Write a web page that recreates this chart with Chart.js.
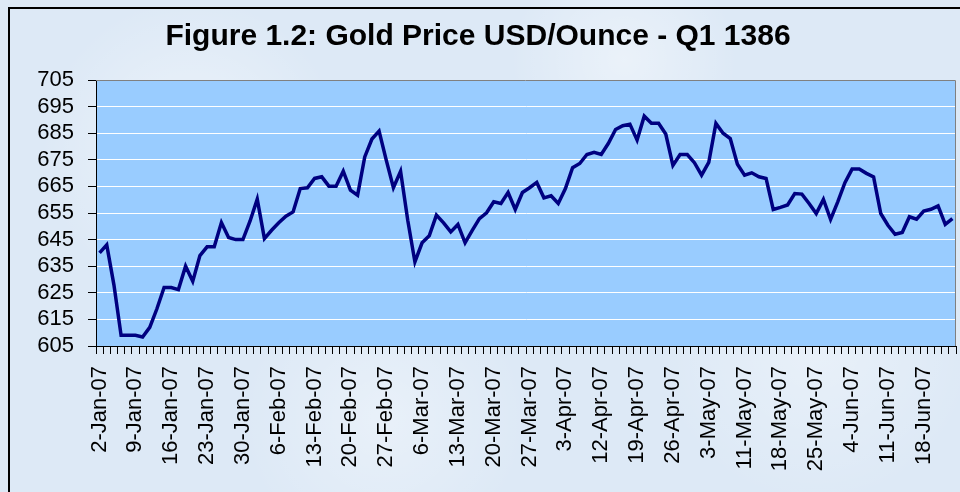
<!DOCTYPE html>
<html>
<head>
<meta charset="utf-8">
<script src="https://cdn.jsdelivr.net/npm/chart.js@4.4.0/dist/chart.umd.min.js"></script>
<style>
  html, body { margin: 0; padding: 0; }
  body {
    width: 960px; height: 492px; overflow: hidden;
    background-color: #dde9f6;
    background-image:
      radial-gradient(circle at 20% 30%, rgba(255,255,255,0.45), transparent 18%),
      radial-gradient(circle at 65% 12%, rgba(255,255,255,0.4), transparent 15%),
      radial-gradient(circle at 40% 85%, rgba(255,255,255,0.35), transparent 20%),
      radial-gradient(circle at 85% 70%, rgba(255,255,255,0.35), transparent 18%);
  }
  canvas { display: block; }
</style>
</head>
<body>
<canvas id="goldChart" width="960" height="492"></canvas>
<script>
// trading days, Jan - Jun 2007
const categories = [
  '2-Jan-07', '3-Jan-07', '4-Jan-07', '5-Jan-07', '8-Jan-07', '9-Jan-07', '10-Jan-07', '11-Jan-07', '12-Jan-07', '15-Jan-07',
  '16-Jan-07', '17-Jan-07', '18-Jan-07', '19-Jan-07', '22-Jan-07', '23-Jan-07', '24-Jan-07', '25-Jan-07', '26-Jan-07', '29-Jan-07',
  '30-Jan-07', '31-Jan-07', '1-Feb-07', '2-Feb-07', '5-Feb-07', '6-Feb-07', '7-Feb-07', '8-Feb-07', '9-Feb-07', '12-Feb-07',
  '13-Feb-07', '14-Feb-07', '15-Feb-07', '16-Feb-07', '19-Feb-07', '20-Feb-07', '21-Feb-07', '22-Feb-07', '23-Feb-07', '26-Feb-07',
  '27-Feb-07', '28-Feb-07', '1-Mar-07', '2-Mar-07', '5-Mar-07', '6-Mar-07', '7-Mar-07', '8-Mar-07', '9-Mar-07', '12-Mar-07',
  '13-Mar-07', '14-Mar-07', '15-Mar-07', '16-Mar-07', '19-Mar-07', '20-Mar-07', '21-Mar-07', '22-Mar-07', '23-Mar-07', '26-Mar-07',
  '27-Mar-07', '28-Mar-07', '29-Mar-07', '30-Mar-07', '2-Apr-07', '3-Apr-07', '4-Apr-07', '5-Apr-07', '10-Apr-07', '11-Apr-07',
  '12-Apr-07', '13-Apr-07', '16-Apr-07', '17-Apr-07', '18-Apr-07', '19-Apr-07', '20-Apr-07', '23-Apr-07', '24-Apr-07', '25-Apr-07',
  '26-Apr-07', '27-Apr-07', '30-Apr-07', '1-May-07', '2-May-07', '3-May-07', '4-May-07', '8-May-07', '9-May-07', '10-May-07',
  '11-May-07', '14-May-07', '15-May-07', '16-May-07', '17-May-07', '18-May-07', '21-May-07', '22-May-07', '23-May-07', '24-May-07',
  '25-May-07', '29-May-07', '30-May-07', '31-May-07', '1-Jun-07', '4-Jun-07', '5-Jun-07', '6-Jun-07', '7-Jun-07', '8-Jun-07',
  '11-Jun-07', '12-Jun-07', '13-Jun-07', '14-Jun-07', '15-Jun-07', '18-Jun-07', '19-Jun-07', '20-Jun-07', '21-Jun-07', '22-Jun-07'
];

// USD per ounce
const goldPrice = [
  640, 643, 628, 609, 609, 609, 608.4, 612, 619, 627,
  627, 626.2, 635, 629.3, 639, 642.3, 642.3, 651.4, 645.8, 645,
  645, 652, 660.2, 645.4, 648.5, 651.3, 653.8, 655.4, 664.2, 664.5,
  668, 668.6, 665.1, 665.1, 670.7, 663.6, 661.7, 676.1, 682.8, 685.8,
  674.9, 664.5, 670.7, 652.3, 636.6, 643.8, 646.4, 654.2, 651.3, 647.9,
  650.7, 643.8, 648.5, 652.9, 655.1, 659.2, 658.6, 662.7, 656.3, 662.7,
  664.5, 666.5, 660.7, 661.5, 658.6, 664.2, 672, 673.6, 677, 677.8,
  677, 681.2, 686.4, 687.8, 688.4, 682.4, 691.4, 688.7, 688.7, 684.7,
  672.9, 677, 677, 673.9, 669.2, 674, 688.7, 685, 683, 673.3,
  669.2, 670.1, 668.6, 668, 656.3, 657.1, 658, 662.3, 662.1, 658.6,
  654.8, 660.1, 652.6, 659.2, 666.4, 671.5, 671.5, 669.9, 668.6, 654.8,
  650.4, 647, 647.7, 653.6, 652.7, 655.7, 656.4, 657.7, 650.7, 652.9
];

const labelEvery = 5;
const yMin = 605, yMax = 705, yStep = 10;

const fontFamily = "'Liberation Sans', Arial, sans-serif";

// plot area fill, grey top/right edge and the outer frame
const plotFrame = {
  id: 'plotFrame',
  beforeDraw(chart) {
    const { ctx, chartArea: a } = chart;
    ctx.save();
    ctx.fillStyle = '#99CCFF';
    ctx.fillRect(a.left, a.top, a.right - a.left, a.bottom - a.top);
    ctx.strokeStyle = '#000';
    ctx.lineWidth = 2;
    ctx.beginPath();
    ctx.moveTo(9, chart.height);
    ctx.lineTo(9, 8);
    ctx.lineTo(chart.width, 8);
    ctx.stroke();
    ctx.restore();
  },
  afterDatasetsDraw(chart) {
    const { ctx, chartArea: a } = chart;
    ctx.save();
    ctx.strokeStyle = '#808080';
    ctx.lineWidth = 1;
    ctx.beginPath();
    ctx.moveTo(a.left, a.top + 0.5);
    ctx.lineTo(a.right - 0.5, a.top + 0.5);
    ctx.lineTo(a.right - 0.5, a.bottom);
    ctx.stroke();
    ctx.restore();
  }
};

new Chart(document.getElementById('goldChart'), {
  type: 'line',
  data: {
    labels: categories,
    datasets: [{
      label: 'Gold Price',
      data: goldPrice,
      borderColor: '#000080',
      borderWidth: 3.5,
      pointRadius: 0,
      tension: 0,
      fill: false
    }]
  },
  options: {
    responsive: false,
    animation: false,
    layout: { padding: { left: 0, right: 4, top: 0, bottom: 0 } },
    plugins: {
      legend: { display: false },
      tooltip: { enabled: false },
      title: {
        display: true,
        text: 'Figure 1.2: Gold Price USD/Ounce - Q1 1386',
        color: '#000',
        font: { family: fontFamily, size: 30, weight: 'bold' },
        padding: { top: 19, bottom: 25 }
      }
    },
    scales: {
      x: {
        offset: true,
        grid: { offset: true, drawOnChartArea: false, color: '#000', tickLength: 8 },
        border: { color: '#000', width: 1 },
        ticks: {
          autoSkip: false,
          minRotation: 90,
          maxRotation: 90,
          padding: 12,
          color: '#000',
          font: { family: fontFamily, size: 22 },
          callback: (v, i) => (i % labelEvery === 0 ? categories[i] : '')
        },
        afterFit: s => {
          s.height = 146;
          s.paddingLeft = 0;
          s.paddingRight = 0;
        }
      },
      y: {
        min: yMin,
        max: yMax,
        grid: { color: '#ffffff', tickColor: '#000', tickLength: 8, lineWidth: 1 },
        border: { color: '#000', width: 1 },
        ticks: {
          stepSize: yStep,
          autoSkip: false,
          padding: 14,
          color: '#000',
          font: { family: fontFamily, size: 22 }
        },
        afterFit: s => { s.width = 96; }
      }
    }
  },
  plugins: [plotFrame]
});
</script>
</body>
</html>
